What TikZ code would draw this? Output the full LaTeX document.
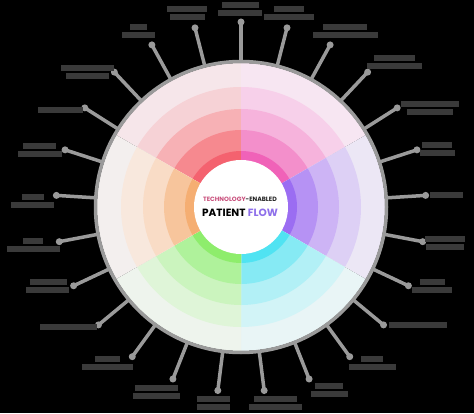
\documentclass[tikz,border=0pt]{standalone}
\usepackage{fontspec}
\newfontfamily\popfont{Poppins}
\usetikzlibrary{positioning}
\definecolor{spokegray}{HTML}{9A9A9A}
\definecolor{labelgray}{HTML}{3A3A3A}
\definecolor{techred}{HTML}{C94F7C}
\definecolor{flowpurple}{HTML}{8E6FEA}
\definecolor{darktext}{HTML}{222222}
% rings, from the centre outwards (A = inner)
\definecolor{redA}{HTML}{F4626F}\definecolor{redB}{HTML}{F6898F}\definecolor{redC}{HTML}{F7B1B5}\definecolor{redD}{HTML}{F6D2D6}\definecolor{redE}{HTML}{F6E6EA}
\definecolor{pinkA}{HTML}{F062B8}\definecolor{pinkB}{HTML}{F38FCB}\definecolor{pinkC}{HTML}{F6B3DC}\definecolor{pinkD}{HTML}{F7D0EA}\definecolor{pinkE}{HTML}{F7E6F2}
\definecolor{purpA}{HTML}{9B6DF2}\definecolor{purpB}{HTML}{B692F4}\definecolor{purpC}{HTML}{CDB4F5}\definecolor{purpD}{HTML}{DDD0F5}\definecolor{purpE}{HTML}{ECE7F5}
\definecolor{cyanA}{HTML}{50E3F2}\definecolor{cyanB}{HTML}{86EAF4}\definecolor{cyanC}{HTML}{B2F0F6}\definecolor{cyanD}{HTML}{D2F4F7}\definecolor{cyanE}{HTML}{E9F5F6}
\definecolor{grnA}{HTML}{8EED6C}\definecolor{grnB}{HTML}{AFF29B}\definecolor{grnC}{HTML}{CBF4BE}\definecolor{grnD}{HTML}{DFF5D8}\definecolor{grnE}{HTML}{EEF4ED}
\definecolor{orngA}{HTML}{F5AE72}\definecolor{orngB}{HTML}{F7C59C}\definecolor{orngC}{HTML}{F9DCC6}\definecolor{orngD}{HTML}{F8E8DD}\definecolor{orngE}{HTML}{F3EFEE}
\tikzset{%
	spoke/.style = {draw = spokegray, line width = 3.5pt},
	tip/.style = {circle, fill = spokegray, inner sep = 0pt, minimum size = 7pt},
	lbl/.style = {name = #1, inner sep = 0pt, align = center, text = labelgray, font = \fontsize{6}{8}\selectfont}
}

\begin{document}
\begin{tikzpicture}[x=1pt, y=1pt]
			\fill [black] (0,0) rectangle (474,413);
			\useasboundingbox (0,0) rectangle (474,413);
			\coordinate (c) at (241,206);
			% sectors
			\foreach \s/\a in {red/90, pink/30, purp/-30, cyan/-90, grn/-150, orng/150} {
				\foreach \r/\t in {144/E, 120/D, 98/C, 77/B, 56/A} {
					\fill [\s\t] (c) -- ([shift={(\a:\r)}]c) arc [start angle = \a, end angle = \a+60, radius = \r] -- cycle;
				}
			}
			\draw [spokegray, line width = 3.5pt] (c) circle [radius = 145.5];
			\node [circle, fill = white, minimum size = 94pt, inner sep = 0pt] (hub) at (c) {};
			\node (tech) at (240,213.5) {\popfont\bfseries\fontsize{6.2}{7}\selectfont\textcolor{techred}{TECHNOLOGY}\textcolor{darktext}{-ENABLED}};
			\node (flow) at (240,200.5) {\popfont\bfseries\fontsize{10.5}{12}\selectfont\textcolor{black}{PATIENT} \textcolor{flowpurple}{FLOW}};
			% spokes
			\foreach \k in {0,...,24} {
				\pgfmathsetmacro\a{90+14.4*\k}
				\coordinate (sk-in-\k) at ([shift={(\a:145)}]c);
				\node [tip] (dot\k) at ([shift={(\a:185)}]c) {};
				\draw [spoke] (sk-in-\k) -- (dot\k.center);
			}
			% labels (two lines)
			\foreach \n/\x/\y/\wa/\wb in {0/240/9/37/44, 1/187/13/40/35, 2/138/31/17/33, 3/87/72/53/43,
				5/40/150/33/44, 6/33/201/22/43, 7/33/245/20/53, 8/48/286/37/43, 10/107/363/25/51,
				11/156/392/43/47, 12/213/403/33/33, 13/275/403/43/53, 14/329/390/28/37, 15/372/363/22/47,
				17/432/286/25/40, 18/445/243/40/38, 20/437/149/30/35, 21/430/108/58/46, 22/394/62/41/55,
				23/345/31/44/65, 24/289/13/30/50} {
				\node [lbl = lab\n] at (\x,413-\y) {\rule{\wa pt}{6pt}\\\rule{\wb pt}{6pt}};
			}
			% labels (one line)
			\foreach \n/\x/\y/\wa in {4/60/110/45, 9/68/327/57, 16/418/325/58, 19/446/195/33} {
				\node [lbl = lab\n] at (\x,413-\y) {\rule{\wa pt}{6pt}};
			}
\end{tikzpicture}
\end{document}
